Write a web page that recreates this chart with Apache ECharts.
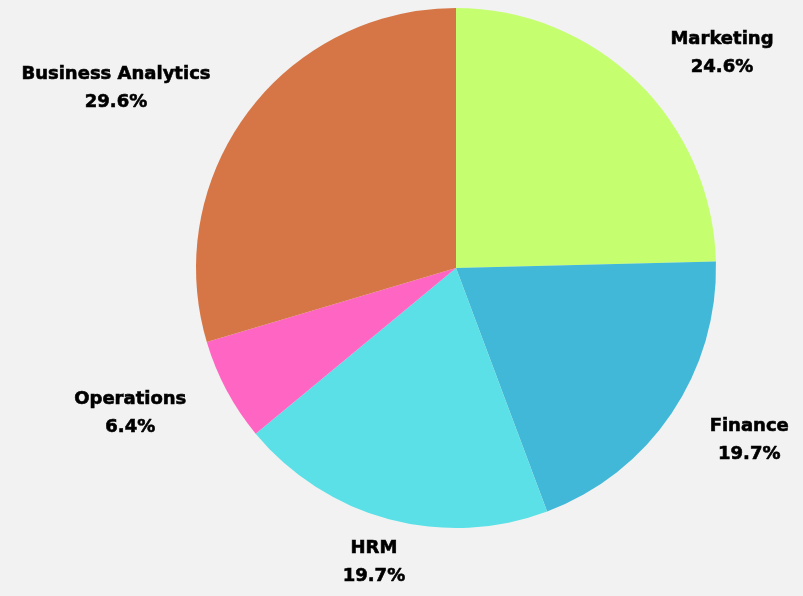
<!DOCTYPE html>
<html>
<head>
<meta charset="utf-8">
<script src="https://cdn.jsdelivr.net/npm/echarts@6/dist/echarts.min.js"></script>
<style>
  html, body { margin: 0; padding: 0; background: #f2f2f2; }
  #chart { width: 803px; height: 596px; }
</style>
</head>
<body>
<div id="chart"></div>
<script>
// departments, clockwise from 12 o'clock
const categories = ['Marketing', 'Finance', 'HRM', 'Operations', 'Business Analytics'];
const shares = [24.6, 19.7, 19.7, 6.4, 29.6];
const colors = ['#c5ff70', '#42b8d8', '#5ae0e6', '#ff66c4', '#d67646'];

const myChart = echarts.init(document.getElementById('chart'));

const option = {
    backgroundColor: '#f2f2f2',
    series: [{
        type: 'pie',
        center: ['456px', '268px'],
        radius: 260,
        startAngle: 90,
        clockwise: true,
        avoidLabelOverlap: false,
        silent: true,
        data: categories.map((name, i) => ({
            name: name,
            value: shares[i],
            itemStyle: { color: colors[i] }
        })),
        label: {
            show: true,
            position: 'outside',
            formatter: p => '{n|' + p.name + '}\n{n|' + p.value.toFixed(1) + '%}',
            rich: {
                n: {
                    align: 'center',
                    fontFamily: 'DejaVu Sans',
                    fontWeight: 'bold',
                    fontSize: 18,
                    lineHeight: 28,
                    color: '#000',
                    // thicken the strokes a little, the original face is very heavy
                    textBorderColor: '#000',
                    textBorderWidth: 0.6
                }
            }
        },
        labelLine: {
            show: false,
            length: 40,
            length2: 0
        },
        // lower labels sit a touch further out, bottom one centred under its slice
        labelLayout: p => {
            if (p.dataIndex === 2) return { dx: p.labelRect.width / 2, dy: 4 };
            if (p.dataIndex === 1 || p.dataIndex === 3) return { dy: 4 };
            return {};
        }
    }]
};
myChart.setOption(option);
</script>
</body>
</html>
